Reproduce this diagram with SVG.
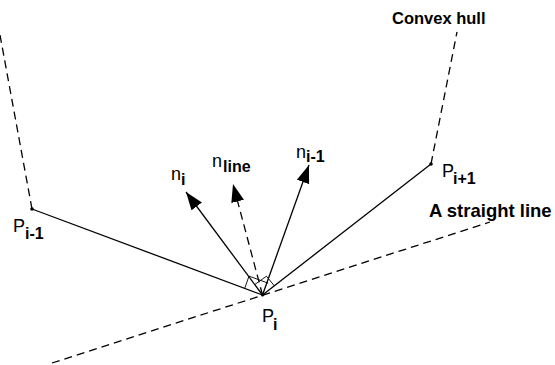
<svg xmlns="http://www.w3.org/2000/svg" width="555" height="365" viewBox="0 0 555 365">
<style>
.solid{stroke:#000;stroke-width:1.3;fill:none}
.dash{stroke:#000;stroke-width:1.3;fill:none;stroke-dasharray:8 5}
.thin{stroke:#000;stroke-width:0.9;fill:none}
.lbl{font-family:"Liberation Sans",Arial,sans-serif;font-size:18px;fill:#000}
.sub{font-family:"Liberation Sans",Arial,sans-serif;font-size:16px;font-weight:bold;fill:#000}
.big{font-family:"Liberation Sans",Arial,sans-serif;font-weight:bold;fill:#000}
</style>
<defs>
<marker id="arr" markerUnits="userSpaceOnUse" markerWidth="20" markerHeight="14" refX="18" refY="6.5" orient="auto">
<path d="M0,0 L18,6.5 L0,13 Z" fill="#000" stroke="none"/>
</marker>
</defs>
<g id="connectors">
<line class="dash" x1="32" y1="209" x2="0" y2="35"/>
<line class="dash" x1="431" y1="164" x2="457" y2="32"/>
<line class="dash" x1="52" y1="363" x2="490" y2="222"/>
<line class="solid" x1="32" y1="209" x2="262.5" y2="295"/>
<line class="solid" x1="262.5" y1="295" x2="431" y2="164"/>
<line class="solid" x1="262.5" y1="295" x2="186" y2="192" marker-end="url(#arr)"/>
<line class="dash" x1="262.5" y1="295" x2="233" y2="184" marker-end="url(#arr)"/>
<line class="solid" x1="262.5" y1="295" x2="309" y2="165" marker-end="url(#arr)"/>
<polyline class="thin" points="244.7,288.4 249,276.1 268.2,283.2"/>
<polyline class="thin" points="274.3,285.8 266.5,276.2 254.7,284.6"/>
</g>
<g id="p_im1">
<circle cx="32" cy="209" r="1.8" fill="#000"/>
<text class="lbl" x="13" y="232">P</text><text class="sub" x="25" y="239">i-1</text>
</g>
<g id="p_i">
<circle cx="262.5" cy="295" r="1.5" fill="#000"/>
<text class="lbl" x="262" y="322">P</text><text class="sub" x="273" y="330">i</text>
</g>
<g id="p_ip1">
<circle cx="431" cy="164" r="1.8" fill="#000"/>
<text class="lbl" x="442" y="177">P</text><text class="sub" x="453" y="184">i+1</text>
</g>
<g id="n_i"><text class="lbl" x="171" y="180">n</text><text class="sub" x="181" y="185">i</text></g>
<g id="n_line"><text class="lbl" x="212" y="167">n</text><text class="sub" x="223" y="172">line</text></g>
<g id="n_im1"><text class="lbl" x="296" y="158">n</text><text class="sub" x="306" y="162">i-1</text></g>
<g id="convex_hull"><text class="big" font-size="16.5" x="392" y="24">Convex hull</text></g>
<g id="straight_line"><text class="big" font-size="18.5" x="429" y="217">A straight line</text></g>
</svg>
